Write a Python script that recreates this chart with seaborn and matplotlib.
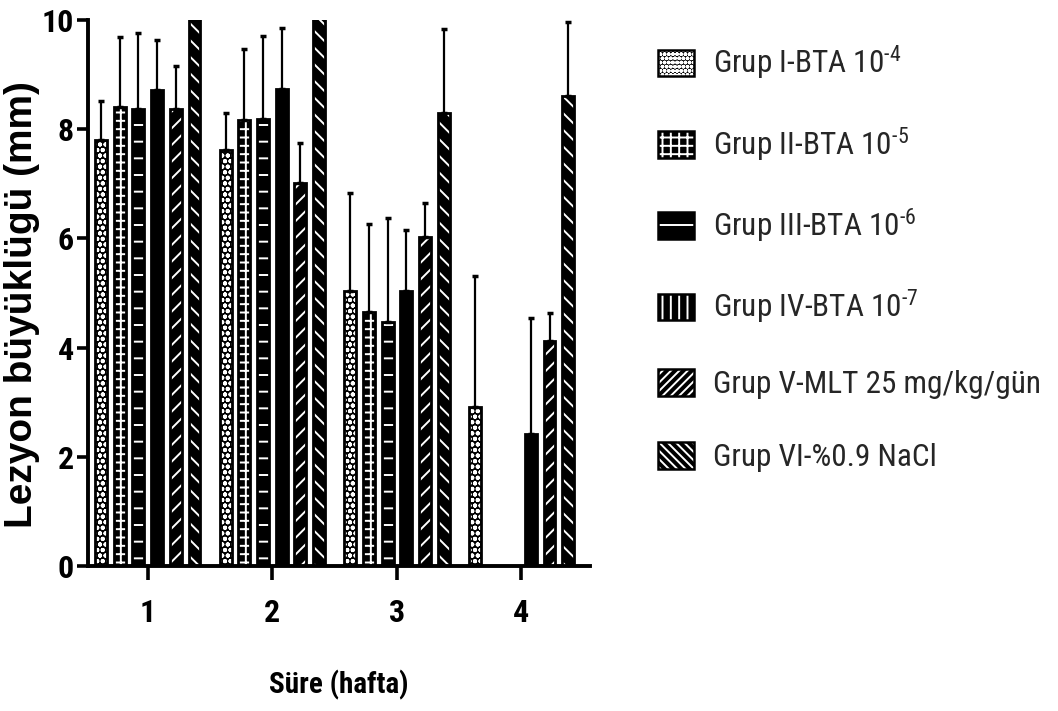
import numpy as np
import pandas as pd
import matplotlib
matplotlib.use("Agg")
import matplotlib.pyplot as plt
import seaborn as sns
from matplotlib import font_manager
from matplotlib.patches import Rectangle, Patch

# ---------------- data ----------------
weeks = ["1", "2", "3", "4"]
groups = [
    "Grup I-BTA 10$^{\\text{-}4}$",
    "Grup II-BTA 10$^{\\text{-}5}$",
    "Grup III-BTA 10$^{\\text{-}6}$",
    "Grup IV-BTA 10$^{\\text{-}7}$",
    "Grup V-MLT 25 mg/kg/gün",
    "Grup VI-%0.9 NaCl",
]
g1_mean = [7.81, 7.61, 5.04, 2.91]
g2_mean = [8.40, 8.16, 4.66, 0.0]
g3_mean = [8.37, 8.19, 4.46, 0.0]
g4_mean = [8.72, 8.74, 5.04, 2.41]
g5_mean = [8.37, 7.02, 6.03, 4.13]
g6_mean = [10.5, 10.5, 8.29, 8.61]

g1_err = [0.71, 0.69, 1.79, 2.40]
g2_err = [1.28, 1.31, 1.61, 0.0]
g3_err = [1.40, 1.52, 1.91, 0.0]
g4_err = [0.91, 1.11, 1.11, 2.13]
g5_err = [0.79, 0.72, 0.61, 0.50]
g6_err = [1.00, 1.00, 1.55, 1.35]

means = [g1_mean, g2_mean, g3_mean, g4_mean, g5_mean, g6_mean]
errs = [g1_err, g2_err, g3_err, g4_err, g5_err, g6_err]

hatches = ["ooo", "++", "-", "", "//", "\\\\"]
legend_hatches = ["oooo", "++", "-", "||", "////", "\\\\\\\\"]

# ---------------- fonts ----------------
def static_family_ok(name):
    ws = set()
    for f in font_manager.fontManager.ttflist:
        if f.name == name and "[" not in f.fname and f.style == "normal":
            ws.add(f.weight)
    return (400 in ws or "normal" in ws or "regular" in ws) and (700 in ws or "bold" in ws)

narrow = "Liberation Sans"
for cand in ["Liberation Sans Narrow", "Arial Narrow", "Roboto Condensed", "Pragati Narrow",
             "PT Sans Narrow", "IBM Plex Sans Condensed", "Encode Sans Condensed",
             "Asap Condensed"]:
    if static_family_ok(cand):
        narrow = cand
        break

sns.set_theme(style="white")
plt.rcParams["font.family"] = [narrow, "DejaVu Sans"]
plt.rcParams["mathtext.fontset"] = "custom"
plt.rcParams["mathtext.rm"] = narrow
plt.rcParams["mathtext.it"] = narrow
plt.rcParams["mathtext.bf"] = narrow + ":bold"
plt.rcParams["mathtext.default"] = "regular"
plt.rcParams["hatch.linewidth"] = 1.4

rows = []
for gi, g in enumerate(groups):
    for wi, w in enumerate(weeks):
        rows.append({"week": w, "group": g, "value": means[gi][wi]})
df = pd.DataFrame(rows)

fig = plt.figure(figsize=(10.58, 7.11), dpi=100)
ax = fig.add_axes([88 / 1058, 1 - 566 / 711, (590 - 88) / 1058, (566 - 20) / 711])

sns.barplot(data=df, x="week", y="value", hue="group", order=weeks, hue_order=groups,
            palette=["black"] * 6, width=0.9, errorbar=None, saturation=1,
            legend=False, ax=ax)

bar_w = 0.096
bar_containers = list(ax.containers)
for gi, cont in enumerate(bar_containers):
    xs, ys, ups = [], [], []
    for wi, p in enumerate(cont.patches):
        cx = p.get_x() + p.get_width() / 2
        p.set_x(cx - bar_w / 2)
        p.set_width(bar_w)
        p.set_facecolor("black")
        p.set_edgecolor("white")
        p.set_linewidth(0)
        p.set_hatch(hatches[gi])
        h = p.get_height()
        if h > 0:
            ax.add_patch(Rectangle((p.get_x(), 0), bar_w, h, fill=False,
                                   edgecolor="black", linewidth=2.0, zorder=3))
            if errs[gi][wi] > 0:
                xs.append(cx)
                ys.append(h)
                ups.append(errs[gi][wi])
    if xs:
        ax.errorbar(xs, ys, yerr=[np.zeros(len(ups)), ups], fmt="none",
                    ecolor="black", elinewidth=1.6, capsize=2.5, capthick=2.5,
                    zorder=2)

ax.set_xlim(-0.48, 3.55)
ax.set_ylim(0, 10)
ax.set_yticks([0, 2, 4, 6, 8, 10])
ax.set_yticklabels(["0", "2", "4", "6", "8", "10"])
for s in ["top", "right"]:
    ax.spines[s].set_visible(False)
for s in ["left", "bottom"]:
    ax.spines[s].set_linewidth(2.8)
    ax.spines[s].set_color("black")
ax.tick_params(axis="both", direction="out", width=2.6, color="black",
               left=True, bottom=True)
ax.tick_params(axis="y", length=8, pad=2)
ax.tick_params(axis="x", length=10, pad=13)
for lab in ax.get_xticklabels() + ax.get_yticklabels():
    lab.set_fontsize(23)
    lab.set_fontweight("bold")
    lab.set_color("black")

ax.set_xlabel("Süre (hafta)", fontsize=21, fontweight="bold", color="black", labelpad=30)
ax.set_ylabel("Lezyon büyüklügü (mm)", fontsize=28, fontweight="bold", color="black",
              family=["Liberation Sans", "DejaVu Sans"], va="center")
ax.yaxis.set_label_coords(-0.131, 0.478)

handles = []
for gi in range(6):
    fillp = Patch(facecolor="black", edgecolor="white", linewidth=0, hatch=legend_hatches[gi])
    edgep = Patch(facecolor="none", edgecolor="black", linewidth=1.8)
    handles.append((fillp, edgep))

fig.legend(handles, groups, loc="upper left", bbox_to_anchor=(658 / 1058, 1 - 44 / 711),
           frameon=False, fontsize=22.5, handlelength=1.16, handleheight=0.93,
           labelspacing=1.37, handletextpad=0.6, borderaxespad=0, borderpad=0)

fig.savefig("out.png", dpi=100)
